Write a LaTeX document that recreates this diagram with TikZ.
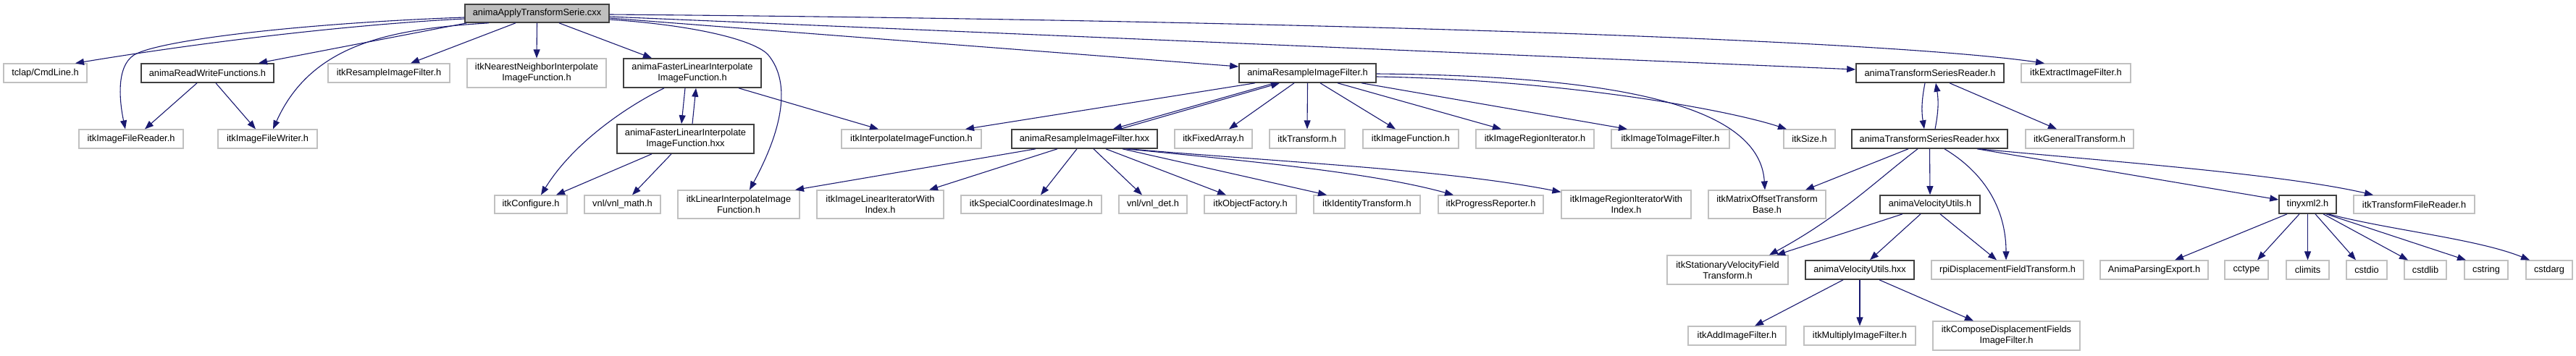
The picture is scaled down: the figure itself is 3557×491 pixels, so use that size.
\documentclass[tikz,border=0pt]{standalone}
\usepackage{fontspec}
\setmainfont{Liberation Sans}
\usetikzlibrary{arrows.meta}
\definecolor{edgec}{HTML}{191970}
\definecolor{gbord}{HTML}{C0C0C0}
\definecolor{bbord}{HTML}{404040}
\definecolor{rootfill}{HTML}{BFBFBF}
\newcommand\mknode[7]{\node[#1, minimum width={#5-#3}, minimum height={#6-#4}] (#2) at ({(#3+#5)/2},{(#4+#6)/2}) {#7};}
\begin{document}
\begin{tikzpicture}[x=1pt,y=-1pt,
  gn/.style={draw=gbord, line width=1.2pt, fill=white, inner sep=0pt, align=center, font=\fontsize{12.8}{15}\selectfont},
  bn/.style={gn, draw=bbord, line width=1.6pt},
  rn/.style={bn, fill=rootfill},
  dep/.style={draw=edgec, line width=1.1pt, -{Triangle[length=12pt,width=9pt]}}]
\useasboundingbox (0,0) rectangle (3557,491);
% nodes
\mknode{rn}{root}{642}{6}{841}{31}{animaApplyTransformSerie.cxx}
\mknode{gn}{tclap}{5}{88}{120}{114}{tclap/CmdLine.h}
\mknode{bn}{rwf}{195}{88}{378}{114}{animaReadWriteFunctions.h}
\mknode{gn}{ifr}{109}{179}{253}{205}{itkImageFileReader.h}
\mknode{gn}{ifw}{301}{179}{438}{205}{itkImageFileWriter.h}
\mknode{gn}{rif}{453}{88}{621}{114}{itkResampleImageFilter.h}
\mknode{gn}{nn}{645}{81}{837}{121}{itkNearestNeighborInterpolate\\ImageFunction.h}
\mknode{bn}{flh}{861}{81}{1051}{121}{animaFasterLinearInterpolate\\ImageFunction.h}
\mknode{bn}{flx}{852}{172}{1041}{212}{animaFasterLinearInterpolate\\ImageFunction.hxx}
\mknode{gn}{cfg}{683}{270}{783}{295}{itkConfigure.h}
\mknode{gn}{vmath}{807}{270}{912}{295}{vnl/vnl\_math.h}
\mknode{gn}{lii}{936}{263}{1104}{302}{itkLinearInterpolateImage\\Function.h}
\mknode{gn}{ilit}{1128}{263}{1303}{302}{itkImageLinearIteratorWith\\Index.h}
\mknode{gn}{iif}{1162}{179}{1355}{205}{itkInterpolateImageFunction.h}
\mknode{bn}{arh}{1711}{88}{1900}{114}{animaResampleImageFilter.h}
\mknode{bn}{arx}{1397}{179}{1598}{205}{animaResampleImageFilter.hxx}
\mknode{gn}{fa}{1622}{179}{1729}{205}{itkFixedArray.h}
\mknode{gn}{sci}{1327}{270}{1521}{295}{itkSpecialCoordinatesImage.h}
\mknode{gn}{vdet}{1545}{270}{1639}{295}{vnl/vnl\_det.h}
\mknode{gn}{of}{1663}{270}{1790}{295}{itkObjectFactory.h}
\mknode{gn}{tr}{1753}{179}{1857}{205}{itkTransform.h}
\mknode{gn}{ifn}{1882}{179}{2014}{205}{itkImageFunction.h}
\mknode{gn}{iri}{2038}{179}{2201}{205}{itkImageRegionIterator.h}
\mknode{gn}{idt}{1814}{270}{1961}{295}{itkIdentityTransform.h}
\mknode{gn}{pr}{1986}{270}{2131}{295}{itkProgressReporter.h}
\mknode{gn}{iriw}{2156}{263}{2335}{302}{itkImageRegionIteratorWith\\Index.h}
\mknode{gn}{itif}{2225}{179}{2388}{205}{itkImageToImageFilter.h}
\mknode{gn}{sz}{2463}{179}{2534}{205}{itkSize.h}
\mknode{gn}{mot}{2359}{263}{2521}{302}{itkMatrixOffsetTransform\\Base.h}
\mknode{gn}{svf}{2302}{353}{2469}{393}{itkStationaryVelocityField\\Transform.h}
\mknode{bn}{vux}{2493}{360}{2643}{386}{animaVelocityUtils.hxx}
\mknode{gn}{add}{2331}{451}{2466}{477}{itkAddImageFilter.h}
\mknode{gn}{mul}{2491}{451}{2645}{477}{itkMultiplyImageFilter.h}
\mknode{bn}{tsr}{2563}{88}{2767}{114}{animaTransformSeriesReader.h}
\mknode{bn}{tsx}{2557}{179}{2772}{205}{animaTransformSeriesReader.hxx}
\mknode{bn}{vuh}{2596}{270}{2734}{295}{animaVelocityUtils.h}
\mknode{gn}{eif}{2791}{88}{2942}{114}{itkExtractImageFilter.h}
\mknode{gn}{gt}{2797}{179}{2946}{205}{itkGeneralTransform.h}
\mknode{gn}{rpi}{2667}{360}{2877}{386}{rpiDisplacementFieldTransform.h}
\mknode{gn}{ape}{2900}{360}{3049}{386}{AnimaParsingExport.h}
\mknode{gn}{cdf}{2669}{444}{2872}{484}{itkComposeDisplacementFields\\ImageFilter.h}
\mknode{bn}{txml}{3147}{270}{3226}{295}{tinyxml2.h}
\mknode{gn}{tfr}{3250}{270}{3417}{295}{itkTransformFileReader.h}
\mknode{gn}{cctype}{3072}{360}{3132}{386}{cctype}
\mknode{gn}{climits}{3157}{360}{3216}{386}{climits}
\mknode{gn}{cstdio}{3240}{360}{3296}{386}{cstdio}
\mknode{gn}{cstdlib}{3320}{360}{3378}{386}{cstdlib}
\mknode{gn}{cstring}{3403}{360}{3463}{386}{cstring}
\mknode{gn}{cstdarg}{3488}{360}{3552}{386}{cstdarg}
% root edges
\draw[dep] ([yshift=-7.5]root.west) .. controls (500,33) and (300,55) .. ([xshift=41.5]tclap.north);
\draw[dep] ([yshift=-5.5]root.west) .. controls (420,32) and (220,55) .. (185,76) .. controls (160,92) and (165,140) .. ([xshift=-8]ifr.north);
\draw[dep] ([xshift=-97]root.south) -- ([xshift=70.5]rwf.north);
\draw[dep] ([xshift=-66.5]root.south) .. controls (540,40) and (430,60) .. ([xshift=7.5]ifw.north);
\draw[dep] ([xshift=-29.5]root.south) -- ([xshift=30]rif.north);
\draw[dep] (root.south) -- (nn.north);
\draw[dep] ([xshift=30.5]root.south) -- ([xshift=-56]flh.north);
\draw[dep] ([yshift=-8.5]root.east) .. controls (960,35) and (1040,55) .. (1060,75) .. controls (1090,110) and (1085,170) .. ([xshift=15]lii.north);
\draw[dep] ([yshift=-6.5]root.east) -- ([yshift=9]arh.west);
\draw[dep] ([yshift=-4.5]root.east) -- ([yshift=5]tsr.west);
\draw[dep] ([yshift=-1.5]root.east) .. controls (1800,28) and (2600,55) .. ([xshift=-43.5]eif.north);
% animaReadWriteFunctions
\draw[dep] ([xshift=-14.5]rwf.south) -- ([xshift=19]ifr.north);
\draw[dep] ([xshift=11.5]rwf.south) -- ([xshift=-16.5]ifw.north);
% animaFasterLinearInterpolateImageFunction
\draw[dep] ([xshift=-39]flh.south) .. controls (860,150) and (790,200) .. ([xshift=14]cfg.north);
\draw[dep] ([xshift=-10]flh.south) -- ([xshift=-5.5]flx.north);
\draw[dep] ([xshift=9.5]flx.north) -- ([xshift=5]flh.south);
\draw[dep] ([xshift=64]flh.south) -- ([xshift=-45.5]iif.north);
\draw[dep] ([xshift=-46.5]flx.south) -- ([xshift=35]cfg.north);
\draw[dep] ([xshift=-19.5]flx.south) -- ([xshift=13.5]vmath.north);
% animaResampleImageFilter.h
\draw[dep] ([xshift=-72.5]arh.south) -- ([xshift=74.5]iif.north);
\draw[dep] ([xshift=-45.5]arh.south) -- ([xshift=39.5]arx.north);
\draw[dep] ([xshift=49.5]arx.north) -- ([xshift=-38.5]arh.south);
\draw[dep] ([xshift=-18.5]arh.south) -- ([xshift=21.5]fa.north);
\draw[dep] (arh.south) -- (tr.north);
\draw[dep] ([xshift=17.5]arh.south) -- ([xshift=-21]ifn.north);
\draw[dep] ([xshift=41.5]arh.south) -- ([xshift=-46.5]iri.north);
\draw[dep] ([xshift=74.5]arh.south) -- ([xshift=-59.5]itif.north);
\draw[dep] ([yshift=-5]arh.east) .. controls (2150,110) and (2380,150) .. ([xshift=-31.5]sz.north);
\draw[dep] ([yshift=-1]arh.east) .. controls (2250,105) and (2430,150) .. ([xshift=-3]mot.north);
% animaResampleImageFilter.hxx
\draw[dep] ([xshift=-67.5]arx.south) -- ([xshift=78]lii.north);
\draw[dep] ([xshift=-37.5]arx.south) -- ([xshift=67.5]ilit.north);
\draw[dep] ([xshift=-10.5]arx.south) -- ([xshift=13]sci.north);
\draw[dep] ([xshift=12.5]arx.south) -- ([xshift=-15]vdet.north);
\draw[dep] ([xshift=29.5]arx.south) -- ([xshift=-33.5]of.north);
\draw[dep] ([xshift=52.5]arx.south) -- ([xshift=-55.5]idt.north);
\draw[dep] ([xshift=57.5]arx.south) .. controls (1750,225) and (1900,240) .. ([xshift=-51.5]pr.north);
\draw[dep] ([xshift=60.5]arx.south) .. controls (1800,226) and (2000,235) .. ([yshift=-3]iriw.north west);
% animaTransformSeriesReader.h
\draw[dep] ([xshift=-7]tsr.south) to[bend right=10] ([xshift=-7.5]tsx.north);
\draw[dep] ([xshift=7.5]tsx.north) to[bend right=10] ([xshift=8]tsr.south);
\draw[dep] ([xshift=27]tsr.south) -- ([xshift=-31.5]gt.north);
% animaTransformSeriesReader.hxx
\draw[dep] ([xshift=-29.5]tsx.south) -- ([xshift=53]mot.north);
\draw[dep] ([xshift=-16.5]tsx.south) .. controls (2590,250) and (2540,300) .. ([xshift=57.5]svf.north);
\draw[dep] (tsx.south) -- (vuh.north);
\draw[dep] ([xshift=20.5]tsx.south) .. controls (2750,245) and (2770,300) .. ([xshift=-2]rpi.north);
\draw[dep] ([xshift=65.5]tsx.south) -- ([yshift=6.5]txml.west);
\draw[dep] ([xshift=68.5]tsx.south) .. controls (2900,222) and (3150,240) .. ([xshift=-56.5]tfr.north);
% animaVelocityUtils.h
\draw[dep] ([xshift=-38]vuh.south) -- ([xshift=67.5]svf.north);
\draw[dep] ([xshift=-13]vuh.south) -- ([xshift=14]vux.north);
\draw[dep] ([xshift=14]vuh.south) -- ([xshift=-15]rpi.north);
% animaVelocityUtils.hxx
\draw[dep] ([xshift=-23]vux.south) -- ([xshift=24.5]add.north);
\draw[dep] (vux.south) -- (mul.north);
\draw[dep] ([xshift=27]vux.south) -- ([xshift=-45.5]cdf.north);
% tinyxml2.h
\draw[dep] ([xshift=-28.5]txml.south) -- ([xshift=28.5]ape.north);
\draw[dep] ([xshift=-11.5]txml.south) -- ([xshift=15]cctype.north);
\draw[dep] (txml.south) -- (climits.north);
\draw[dep] ([xshift=10.5]txml.south) -- ([xshift=-15]cstdio.north);
\draw[dep] ([xshift=21.5]txml.south) -- ([xshift=-24]cstdlib.north);
\draw[dep] ([xshift=25.5]txml.south) -- ([xshift=-28]cstring.north);
\draw[dep] ([xshift=28.5]txml.south) .. controls (3300,318) and (3420,330) .. ([xshift=-27]cstdarg.north);
\end{tikzpicture}
\end{document}
